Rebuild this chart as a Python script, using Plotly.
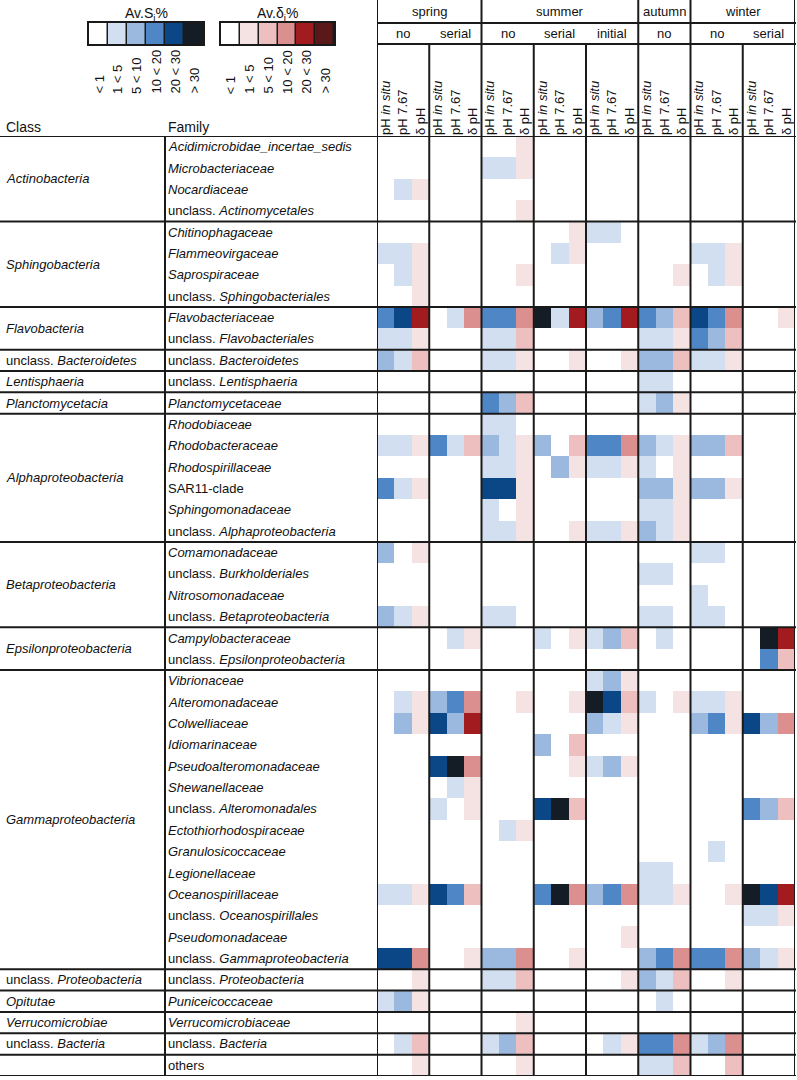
import plotly.graph_objects as go

W, H = 797, 1080
FONT = "Liberation Sans, Arial, sans-serif"
LINE = "#1a1a1a"

# class blocks (label, number of family rows)
class_names = ["<i>Actinobacteria</i>", "<i>Sphingobacteria</i>", "<i>Flavobacteria</i>",
               "unclass. <i>Bacteroidetes</i>", "<i>Lentisphaeria</i>", "<i>Planctomycetacia</i>",
               "<i>Alphaproteobacteria</i>", "<i>Betaproteobacteria</i>", "<i>Epsilonproteobacteria</i>",
               "<i>Gammaproteobacteria</i>", "unclass. <i>Proteobacteria</i>", "<i>Opitutae</i>",
               "<i>Verrucomicrobiae</i>", "unclass. <i>Bacteria</i>", ""]
class_sizes = [4, 4, 2, 1, 1, 1, 6, 4, 2, 14, 1, 1, 1, 1, 1]

families = [
    "<i>Acidimicrobidae_incertae_sedis</i>", "<i>Microbacteriaceae</i>", "<i>Nocardiaceae</i>",
    "unclass. <i>Actinomycetales</i>",
    "<i>Chitinophagaceae</i>", "<i>Flammeovirgaceae</i>", "<i>Saprospiraceae</i>",
    "unclass. <i>Sphingobacteriales</i>",
    "<i>Flavobacteriaceae</i>", "unclass. <i>Flavobacteriales</i>",
    "unclass. <i>Bacteroidetes</i>",
    "unclass. <i>Lentisphaeria</i>",
    "<i>Planctomycetaceae</i>",
    "<i>Rhodobiaceae</i>", "<i>Rhodobacteraceae</i>", "<i>Rhodospirillaceae</i>", "SAR11-clade",
    "<i>Sphingomonadaceae</i>", "unclass. <i>Alphaproteobacteria</i>",
    "<i>Comamonadaceae</i>", "unclass. <i>Burkholderiales</i>", "<i>Nitrosomonadaceae</i>",
    "unclass. <i>Betaproteobacteria</i>",
    "<i>Campylobacteraceae</i>", "unclass. <i>Epsilonproteobacteria</i>",
    "<i>Vibrionaceae</i>", "<i>Alteromonadaceae</i>", "<i>Colwelliaceae</i>", "<i>Idiomarinaceae</i>",
    "<i>Pseudoalteromonadaceae</i>", "<i>Shewanellaceae</i>", "unclass. <i>Alteromonadales</i>",
    "<i>Ectothiorhodospiraceae</i>", "<i>Granulosicoccaceae</i>", "<i>Legionellaceae</i>",
    "<i>Oceanospirillaceae</i>", "unclass. <i>Oceanospirillales</i>", "<i>Pseudomonadaceae</i>",
    "unclass. <i>Gammaproteobacteria</i>",
    "unclass. <i>Proteobacteria</i>",
    "<i>Puniceicoccaceae</i>",
    "<i>Verrucomicrobiaceae</i>",
    "unclass. <i>Bacteria</i>",
    "others",
]

seasons = ["spring", "summer", "autumn", "winter"]
season_groups = [2, 3, 1, 2]
treatments = ["no", "serial", "no", "serial", "initial", "no", "no", "serial"]
col_labels = ["pH <i>in situ</i>", "pH 7.67", "δ pH"]
bin_labels = ["< 1", "1 < 5", "5 < 10", "10 < 20", "20 < 30", "> 30"]

# class index per cell: digits = (Av.S pH in situ, Av.S pH 7.67, Av.δ pH), one string per family row
spring_no = ["000", "000", "011", "000", "000", "111", "011", "001", "344", "111", "212",
             "000", "000", "000", "111", "000", "311", "000", "000", "201", "000", "000",
             "211", "000", "000", "000", "011", "021", "000", "000", "000", "000", "000",
             "000", "000", "111", "000", "000", "443", "001", "121", "000", "012", "001"]
spring_serial = ["000", "000", "000", "000", "000", "000", "000", "000", "013", "000", "000",
                 "000", "000", "000", "312", "000", "000", "000", "000", "000", "000", "000",
                 "000", "011", "000", "000", "233", "424", "000", "453", "011", "101", "000",
                 "000", "000", "432", "000", "000", "001", "000", "000", "000", "000", "000"]
summer_no = ["001", "111", "000", "001", "000", "000", "001", "000", "333", "112", "111",
             "000", "322", "110", "211", "111", "441", "101", "111", "000", "000", "000",
             "110", "000", "000", "000", "001", "000", "000", "000", "000", "000", "011",
             "000", "000", "000", "000", "000", "223", "112", "000", "001", "122", "001"]
summer_serial = ["000", "000", "000", "000", "001", "011", "000", "000", "514", "000", "001",
                 "000", "000", "000", "202", "021", "000", "000", "001", "000", "000", "000",
                 "000", "101", "000", "000", "001", "000", "202", "001", "000", "452", "000",
                 "000", "000", "353", "000", "000", "001", "000", "000", "000", "000", "000"]
summer_initial = ["000", "000", "000", "000", "110", "000", "000", "000", "234", "000", "001",
                  "000", "000", "000", "333", "111", "000", "000", "111", "000", "000", "000",
                  "000", "122", "000", "121", "542", "211", "000", "121", "000", "000", "000",
                  "000", "000", "233", "000", "001", "000", "001", "000", "000", "011", "000"]
autumn_no = ["000", "000", "000", "000", "000", "000", "001", "000", "322", "111", "222",
             "110", "121", "000", "211", "101", "221", "111", "211", "000", "110", "000",
             "110", "010", "000", "000", "101", "000", "000", "000", "000", "000", "000",
             "000", "110", "111", "000", "000", "233", "212", "010", "000", "333", "112"]
winter_no = ["000", "000", "000", "000", "000", "111", "011", "000", "433", "322", "111",
             "000", "000", "000", "222", "000", "221", "000", "000", "110", "000", "100",
             "110", "000", "000", "000", "111", "231", "000", "000", "000", "000", "000",
             "010", "000", "001", "000", "000", "333", "001", "000", "000", "123", "002"]
winter_serial = ["000", "000", "000", "000", "000", "000", "000", "000", "001", "000", "000",
                 "000", "000", "000", "000", "000", "000", "000", "000", "000", "000", "000",
                 "000", "054", "032", "000", "000", "423", "000", "000", "000", "322", "000",
                 "000", "000", "544", "111", "000", "211", "000", "000", "000", "000", "000"]

blue = ["#ffffff", "#d2dff1", "#9bb9df", "#4f87c6", "#0b4686", "#141c26"]
red = ["#ffffff", "#f5e2e2", "#eebfbf", "#dc8f8f", "#a11b1f", "#5b1818"]

groups = [spring_no, spring_serial, summer_no, summer_serial, summer_initial,
          autumn_no, winter_no, winter_serial]
n_rows = len(families)
n_cols = 3 * len(groups)

z = []
for r in range(n_rows):
    row = []
    for g in groups:
        code = g[r]
        row += [int(code[0]), int(code[1]), 6 + int(code[2])]
    z.append(row)

palette = blue + red
cs = []
for i, c in enumerate(palette):
    cs.append([i / len(palette), c])
    cs.append([(i + 1) / len(palette), c])


def px(p):
    return p / W


def py(p):
    return 1 - p / H


TOP, BOT = 136, 1076
fig = go.Figure()
fig.add_trace(go.Heatmap(z=z, x=list(range(n_cols)), y=list(range(n_rows)),
                         colorscale=cs, zmin=-0.5, zmax=11.5, showscale=False,
                         hoverinfo="skip"))
fig.add_trace(go.Heatmap(z=[list(range(6))], x=list(range(6)), y=[0], xaxis="x2", yaxis="y2",
                         colorscale=cs, zmin=-0.5, zmax=11.5, showscale=False, xgap=1.5,
                         hoverinfo="skip"))
fig.add_trace(go.Heatmap(z=[list(range(6, 12))], x=list(range(6)), y=[0], xaxis="x3", yaxis="y3",
                         colorscale=cs, zmin=-0.5, zmax=11.5, showscale=False, xgap=1.5,
                         hoverinfo="skip"))

legend_ax = dict(range=[-0.5, 5.5], showticklabels=False, ticks="", showgrid=False,
                 zeroline=False, showline=True, mirror=True, linecolor=LINE, linewidth=2)
legend_ay = dict(range=[-0.5, 0.5], showticklabels=False, ticks="", showgrid=False,
                 zeroline=False, showline=True, mirror=True, linecolor=LINE, linewidth=2,
                 domain=[py(44), py(23)])

fig.update_layout(
    width=W, height=H, margin=dict(l=0, r=0, t=0, b=0),
    paper_bgcolor="white", plot_bgcolor=LINE,
    font=dict(family=FONT, size=13, color="#111"),
    showlegend=False,
    xaxis=dict(domain=[px(377), px(795)], range=[-0.5, n_cols - 0.5], side="top",
               tickvals=list(range(n_cols)), ticktext=col_labels * len(groups),
               tickangle=-90, ticks="", showgrid=False, zeroline=False,
               tickfont=dict(size=13)),
    yaxis=dict(domain=[py(BOT), py(TOP)], range=[n_rows - 0.5, -0.5],
               showticklabels=False, ticks="", showgrid=False, zeroline=False),
    xaxis2=dict(domain=[px(89), px(203)], anchor="y2", **legend_ax),
    yaxis2=dict(anchor="x2", **legend_ay),
    xaxis3=dict(domain=[px(221), px(334)], anchor="y3", **legend_ax),
    yaxis3=dict(anchor="x3", **legend_ay),
)

ann = []
shapes = []


def hline(y, x0, x1, yref="y"):
    shapes.append(dict(type="line", xref="paper", yref=yref, x0=x0, x1=x1, y0=y, y1=y,
                       line=dict(color=LINE, width=2), layer="above"))


def vline(x, y0, y1, xref="x", yref="paper"):
    shapes.append(dict(type="line", xref=xref, yref=yref, x0=x, x1=x, y0=y0, y1=y1,
                       line=dict(color=LINE, width=2), layer="above"))


# class labels and separators
start = 0
hline(-0.5, 0, px(796))
for name, size in zip(class_names, class_sizes):
    end = start + size
    if name:
        ann.append(dict(x=px(4), xref="paper", y=(start + end - 1) / 2, yref="y",
                        text=name, showarrow=False, xanchor="left", yanchor="middle"))
    hline(end - 0.5, 0, px(796))
    start = end

for i, fam in enumerate(families):
    ann.append(dict(x=px(166), xref="paper", y=i, yref="y", text=fam, showarrow=False,
                    xanchor="left", yanchor="middle"))

vline(px(165), -0.5, n_rows - 0.5, xref="paper", yref="y")

# header: seasons, treatments, group lines
hline(py(23), px(377), px(796), yref="paper")
hline(py(44), px(377), px(796), yref="paper")
vline(-0.5, py(0), py(BOT))
g0 = 0
for season, ng in zip(seasons, season_groups):
    c0, c1 = 3 * g0, 3 * (g0 + ng)
    ann.append(dict(x=(c0 + c1 - 1) / 2, xref="x", y=py(12), yref="paper", text=season,
                    showarrow=False, xanchor="center", yanchor="middle"))
    vline(c1 - 0.5, py(0), py(BOT))
    for k in range(g0, g0 + ng):
        ann.append(dict(x=3 * k + 1, xref="x", y=py(33.5), yref="paper", text=treatments[k],
                        showarrow=False, xanchor="center", yanchor="middle"))
        if k < g0 + ng - 1:
            vline(3 * k + 2.5, py(44), py(BOT))
    g0 += ng

ann.append(dict(x=px(4), xref="paper", y=py(127), yref="paper", text="Class",
                showarrow=False, xanchor="left", yanchor="middle", font=dict(size=14)))
ann.append(dict(x=px(166), xref="paper", y=py(127), yref="paper", text="Family",
                showarrow=False, xanchor="left", yanchor="middle", font=dict(size=14)))

# legend titles and bin labels
for xa, title in [("x2", "Av.S<sub>i</sub>%"), ("x3", "Av.δ<sub>i</sub>%")]:
    ann.append(dict(x=2.5, xref=xa, y=py(14), yref="paper", text=title, showarrow=False,
                    xanchor="center", yanchor="middle", font=dict(size=14)))
    for i, lab in enumerate(bin_labels):
        ann.append(dict(x=i, xref=xa, y=py(96), yref="paper", text=lab,
                        showarrow=False, textangle=-90, xanchor="center", yanchor="bottom",
                        font=dict(size=13)))

fig.update_layout(annotations=ann, shapes=shapes)
fig.write_html("out.html", config={"displayModeBar": False},
               post_script="document.body.style.margin='0';")
